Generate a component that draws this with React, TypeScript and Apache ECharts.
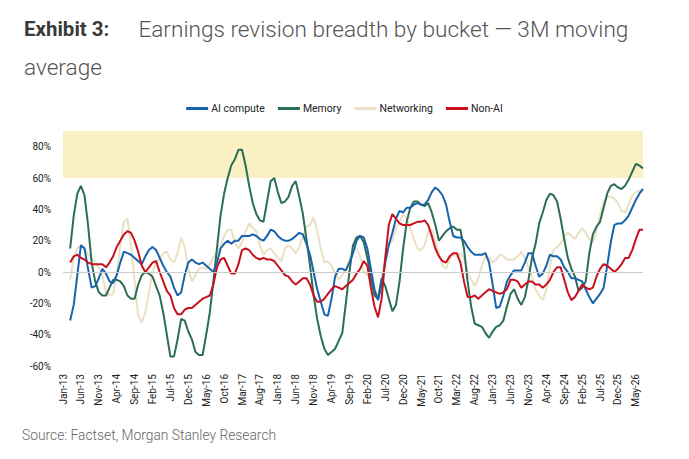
import React, { useEffect, useRef } from "react";
import * as echarts from "echarts";

const months = ["Jan","Feb","Mar","Apr","May","Jun","Jul","Aug","Sep","Oct","Nov","Dec"];
const categories: string[] = [];
for (let y = 13; y <= 26; y++) {
  for (let m = 0; m < 12; m++) {
    if (y === 26 && m > 6) break;
    categories.push(`${months[m]}-${y}`);
  }
}

const aiCompute = [null, null,
  -31, -21, -2, 17, 15, 2, -10, -9, -4, 2, -1, -6, -7, -2, 6, 13, 12, 11, 9, 7, 5, 10, 14, 16, 14, 9,
  4, 0, -3, -10, -15, -13, -2, 6, 8, 6, 5, 6, 4, 2, 0, 6, 15, 18, 20, 18, 20, 20, 23, 23, 23, 24,
  23, 21, 20, 23, 27, 26, 23, 21, 20, 20, 21, 23, 25, 24, 18, 11, 0, -11, -19, -27, -28, -17, -3, 2, 2, 1,
  6, 12, 20, 23, 22, 15, 2, -11, -18, -8, 6, 17, 25, 34, 39, 38, 41, 41, 43, 44, 43, 43, 46, 51, 54, 52, 49,
  43, 32, 23, 22, 22, 20, 16, 13, 11, 11, 11, 12, 6, -8, -23, -22, -15, -6, -2, 1, 1, 1, 6, 12, 12, 4,
  -3, -1, 4, 11, 10, 10, 8, 3, 0, -4, -4, -5, -6, -11, -16, -20, -17, -14, -10, 4, 19, 30, 31, 31, 33, 36, 41, 46, 50, 53];

const memory = [null, null,
  15, 36, 50, 55, 49, 30, 6, -6, -13, -15, -15, -10, -5, -5, -6, -9, -15, -17, -17, -8, -2, 0, -1, -3, -9,
  -15, -26, -40, -54, -54, -43, -30, -31, -38, -43, -51, -53, -53, -40, -26, -6, 15, 36, 50, 60, 68, 72, 78, 78, 68, 55, 44,
  37, 33, 32, 45, 58, 60, 51, 44, 45, 48, 55, 58, 48, 37, 21, 4, -15, -30, -41, -49, -53, -51, -49, -44, -39, -20,
  0, 17, 22, 23, 19, 9, -4, -15, -17, -4, -9, -17, -25, -21, -6, 15, 32, 41, 45, 45, 43, 42, 44, 38, 30, 20, 23,
  26, 28, 29, 27, 27, 15, -6, -22, -33, -34, -35, -39, -42, -38, -35, -34, -31, -22, -14, -11, -17, -21, -16, -5, 9, 18,
  31, 38, 46, 50, 49, 45, 34, 21, 9, 2, -3, -12, -10, -6, 12, 24, 29, 32, 41, 50, 55, 56, 54, 53, 55, 59, 64, 69, 68, 66];

const networking = [null, null,
  -5, 9, 15, 17, 16, 11, 9, 6, 3, -2, -13, -15, -14, -2, 17, 32, 34, 17, -6, -28, -32, -26, -13, 0, 6,
  8, 12, 13, 8, 6, 12, 22, 16, 2, -6, -2, 2, 3, 2, 5, 9, 13, 17, 23, 27, 27, 19, 15, 19, 26, 31, 28,
  26, 17, 11, 14, 15, 12, 9, 7, 15, 17, 15, 12, 16, 23, 29, 30, 35, 26, 15, 6, 7, 4, -1, -5, -2, 2,
  8, 14, 15, 10, 0, -2, -5, -13, -17, -5, 9, 18, 20, 28, 32, 37, 34, 28, 21, 15, 14, 17, 26, 27, 20, 12, 4,
  2, 8, 11, 10, 12, 9, 0, -5, -9, -4, 4, 10, 9, 6, 8, 11, 10, 8, 8, 8, 10, 13, 9, 3, -3, -11,
  -15, -18, -11, 4, 14, 16, 18, 23, 25, 23, 21, 25, 28, 25, 21, 19, 26, 36, 45, 48, 48, 47, 44, 39, 38, 43, 49, 51, 52, 52];

const nonAI = [null, null,
  6, 10, 11, 9, 8, 6, 5, 5, 5, 5, 3, 6, 10, 16, 20, 24, 26, 25, 20, 13, 4, 0, 3, 6, 7,
  0, -6, -12, -15, -23, -27, -27, -24, -23, -23, -21, -19, -17, -16, -15, -8, 3, 8, 9, 4, -1, -1, 5, 14, 15, 14, 11,
  9, 8, 9, 8, 8, 7, 4, 1, -2, -3, -6, -8, -6, -4, -4, -8, -15, -19, -19, -17, -14, -11, -9, -10, -11, -9,
  -7, -5, -1, 2, 7, 4, -10, -22, -29, -17, 9, 30, 37, 34, 31, 30, 30, 30, 31, 32, 32, 33, 30, 23, 15, 10, 7,
  6, 10, 12, 12, 6, -6, -16, -16, -15, -17, -15, -13, -11, -12, -13, -14, -13, -11, -5, -5, -6, -10, -8, -6, -6, -8,
  -8, -10, -8, -5, 0, 3, 3, -5, -13, -18, -16, -12, -8, -10, -11, -10, -3, 2, 5, 4, 2, 0, 2, 5, 9, 9, 14, 21, 27, 27];

const seriesNames = ["AI compute", "Memory", "Networking", "Non-AI"];
const seriesColors = ["#1763ad", "#2a6e56", "#ebe0c3", "#c8101e"];
const seriesData = [aiCompute, memory, networking, nonAI];

export default function App() {
  const ref = useRef<HTMLDivElement>(null);
  useEffect(() => {
    if (!ref.current) return;
    const chart = echarts.init(ref.current, null, { renderer: "svg" });
    const font = "Roboto, 'Noto Sans', sans-serif";
    chart.setOption({
      animation: false,
      backgroundColor: "#ffffff",
      textStyle: { fontFamily: font },
      title: {
        left: 24,
        top: 10,
        padding: 0,
        text: "{b|Exhibit 3:}{g|}{n|Earnings revision breadth by bucket — 3M moving}\n{n|average}",
        textStyle: {
          rich: {
            b: { fontFamily: font, fontWeight: "bold", fontSize: 20.5, color: "#3a3a3a", lineHeight: 38 },
            g: { width: 29, lineHeight: 38 },
            n: { fontFamily: font, fontWeight: 300, fontSize: 22.6, color: "#555555", lineHeight: 38 },
          },
        },
      },
      graphic: [
        {
          type: "text",
          left: 22,
          top: 428,
          style: {
            text: "Source: Factset, Morgan Stanley Research",
            fontFamily: font,
            fontSize: 13.8,
            fontWeight: 300,
            fill: "#666666",
          },
        },
      ],
      legend: {
        top: 98,
        left: "center",
        itemWidth: 22,
        itemHeight: 3,
        itemGap: 13,
        icon: "rect",
        textStyle: { fontFamily: font, fontSize: 10.5, color: "#222222", padding: [0, 0, 0, -2] },
        data: seriesNames,
      },
      grid: { left: 63, right: 46, top: 131, bottom: 93, containLabel: false },
      xAxis: {
        type: "category",
        data: categories,
        boundaryGap: false,
        axisLine: { show: false },
        axisTick: { show: false },
        splitLine: { show: false },
        axisLabel: {
          interval: 4,
          rotate: 90,
          fontSize: 10,
          color: "#222222",
          margin: 8,
          fontFamily: font,
        },
      },
      yAxis: {
        type: "value",
        min: -60,
        max: 90,
        interval: 20,
        axisLine: { show: false },
        axisTick: { show: false },
        splitLine: { show: false },
        axisLabel: {
          showMaxLabel: false,
          formatter: (v: number) => `${v}%`,
          fontSize: 10,
          color: "#222222",
          margin: 12,
          fontFamily: font,
        },
      },
      series: seriesData.map((d, i) => ({
        name: seriesNames[i],
        type: "line",
        data: d,
        showSymbol: false,
        symbol: "none",
        z: [3, 2, 1, 4][i],
        lineStyle: { width: 2, color: seriesColors[i] },
        itemStyle: { color: seriesColors[i] },
        ...(i === 0
          ? {
              markArea: {
                silent: true,
                itemStyle: { color: "#fbefc4" },
                data: [[{ yAxis: 60 }, { yAxis: 90 }]],
              },
              markLine: {
                silent: true,
                symbol: "none",
                label: { show: false },
                lineStyle: { color: "#cccccc", width: 1, type: "solid" },
                data: [{ yAxis: 0 }],
              },
            }
          : {}),
      })),
    });
    return () => chart.dispose();
  }, []);
  return (
    <div
      ref={ref}
      style={{ position: "absolute", left: 0, top: 0, width: 689, height: 459 }}
    />
  );
}
